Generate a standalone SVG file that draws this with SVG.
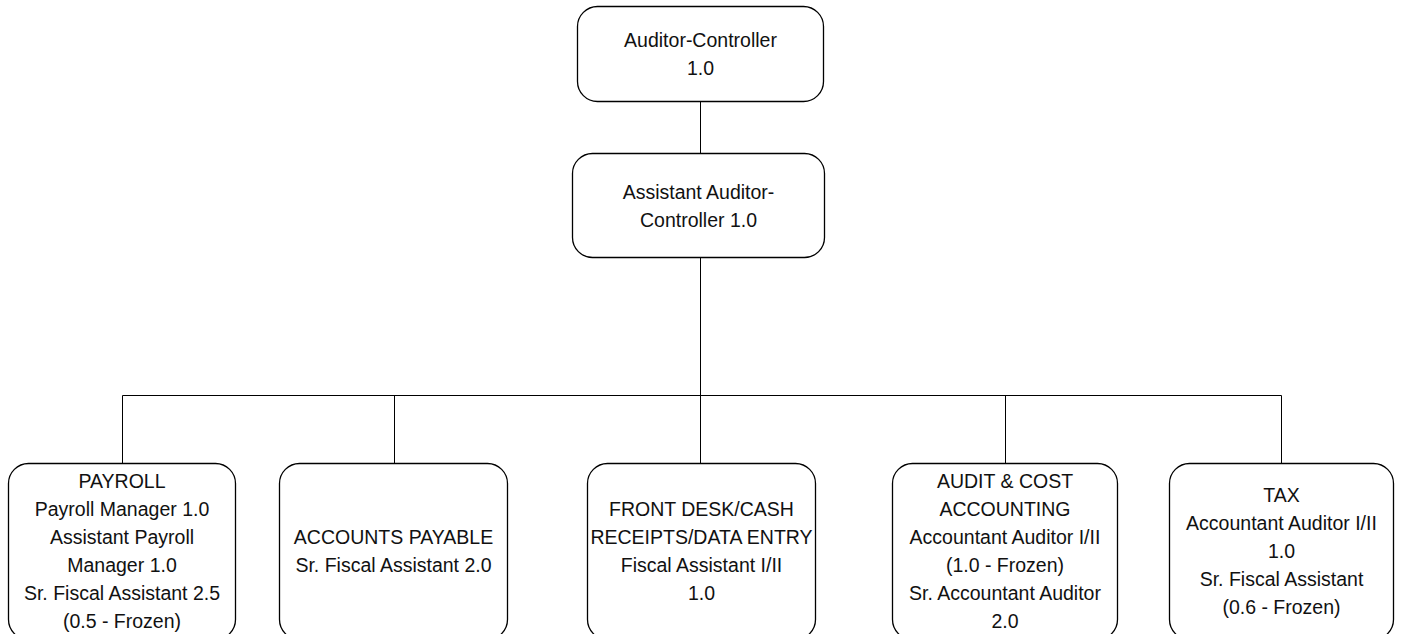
<svg xmlns="http://www.w3.org/2000/svg" width="1410" height="634" viewBox="0 0 1410 634">
  <style>
    .box { fill: #ffffff; stroke: #000000; stroke-width: 1.3; }
    .wire { fill: none; stroke: #000000; stroke-width: 1; }
    text { font-family: "Liberation Sans", Arial, sans-serif; font-size: 19.5px; fill: #111111; text-anchor: middle; }
  </style>
  <rect width="1410" height="634" fill="#ffffff"/>

  <!-- reporting lines -->
  <g id="connectors">
    <path class="wire" d="M700.5 101 V153.5"/>
    <path class="wire" d="M700.5 257.5 V463.5"/>
    <path class="wire" d="M122.5 395.5 H1281.5"/>
    <path class="wire" d="M122.5 395.5 V463.5"/>
    <path class="wire" d="M394.5 395.5 V463.5"/>
    <path class="wire" d="M1005.5 395.5 V463.5"/>
    <path class="wire" d="M1281.5 395.5 V463.5"/>
  </g>

  <g id="auditor-controller">
    <rect class="box" x="577.5" y="6.5" width="246" height="95" rx="20"/>
    <text x="700.5" y="47">Auditor-Controller</text>
    <text x="700.5" y="75">1.0</text>
  </g>

  <g id="assistant-auditor-controller">
    <rect class="box" x="572.5" y="153.5" width="252" height="104" rx="20"/>
    <text x="698.5" y="199">Assistant Auditor-</text>
    <text x="698.5" y="227">Controller 1.0</text>
  </g>

  <g id="payroll">
    <rect class="box" x="8.5" y="463.5" width="227" height="176" rx="20"/>
    <text x="122" y="488">PAYROLL</text>
    <text x="122" y="516">Payroll Manager 1.0</text>
    <text x="122" y="544">Assistant Payroll</text>
    <text x="122" y="572">Manager 1.0</text>
    <text x="122" y="600">Sr. Fiscal Assistant 2.5</text>
    <text x="122" y="628">(0.5 - Frozen)</text>
  </g>

  <g id="accounts-payable">
    <rect class="box" x="279.5" y="463.5" width="228" height="176" rx="20"/>
    <text x="393.5" y="544">ACCOUNTS PAYABLE</text>
    <text x="393.5" y="572">Sr. Fiscal Assistant 2.0</text>
  </g>

  <g id="front-desk">
    <rect class="box" x="587.5" y="463.5" width="228" height="176" rx="20"/>
    <text x="701.5" y="516">FRONT DESK/CASH</text>
    <text x="701.5" y="544">RECEIPTS/DATA ENTRY</text>
    <text x="701.5" y="572">Fiscal Assistant I/II</text>
    <text x="701.5" y="600">1.0</text>
  </g>

  <g id="audit-cost-accounting">
    <rect class="box" x="892.5" y="463.5" width="225" height="176" rx="20"/>
    <text x="1005" y="488">AUDIT &amp; COST</text>
    <text x="1005" y="516">ACCOUNTING</text>
    <text x="1005" y="544">Accountant Auditor I/II</text>
    <text x="1005" y="572">(1.0 - Frozen)</text>
    <text x="1005" y="600">Sr. Accountant Auditor</text>
    <text x="1005" y="628">2.0</text>
  </g>

  <g id="tax">
    <rect class="box" x="1169.5" y="463.5" width="224" height="176" rx="20"/>
    <text x="1281.5" y="502">TAX</text>
    <text x="1281.5" y="530">Accountant Auditor I/II</text>
    <text x="1281.5" y="558">1.0</text>
    <text x="1281.5" y="586">Sr. Fiscal Assistant</text>
    <text x="1281.5" y="614">(0.6 - Frozen)</text>
  </g>
</svg>
